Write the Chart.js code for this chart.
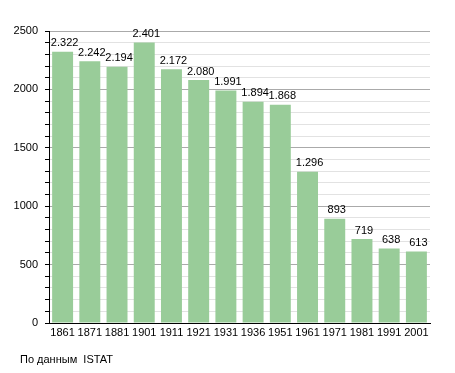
<!DOCTYPE html>
<html>
<head>
<meta charset="utf-8">
<script src="https://cdn.jsdelivr.net/npm/chart.js@4.4.0/dist/chart.umd.min.js"></script>
<style>
  html, body { margin: 0; padding: 0; background: #fff; }
  #wrap { position: relative; width: 455px; height: 373px; }
  #source { position: absolute; left: 20px; top: 353px; font: 11px "Liberation Sans", Arial, sans-serif; color: #000; }
</style>
</head>
<body>
<div id="wrap">
  <canvas id="chart" width="455" height="373"></canvas>
  <div id="source">По данным&nbsp; ISTAT</div>
</div>
<script>
// Census years and population
const years = ['1861', '1871', '1881', '1901', '1911', '1921', '1931', '1936', '1951', '1961', '1971', '1981', '1991', '2001'];
const population = [2322, 2242, 2194, 2401, 2172, 2080, 1991, 1894, 1868, 1296, 893, 719, 638, 613];
const yTicks = [0, 500, 1000, 1500, 2000, 2500];

const FONT = { family: '"Liberation Sans", Arial, sans-serif', size: 11 };

function fmt(v) {
    return String(v).replace(/\B(?=(\d{3})+(?!\d))/g, '.');
}

// value labels above each bar
const barLabels = {
    id: 'barLabels',
    afterDatasetsDraw(chart) {
        const ctx = chart.ctx;
        const meta = chart.getDatasetMeta(0);
        ctx.save();
        ctx.font = `${FONT.size}px ${FONT.family}`;
        ctx.fillStyle = '#000';
        ctx.textAlign = 'center';
        ctx.textBaseline = 'bottom';
        meta.data.forEach((bar, i) => {
            ctx.fillText(fmt(population[i]), bar.x + 2, bar.y - 3);
        });
        ctx.restore();
    }
};

new Chart(document.getElementById('chart'), {
    type: 'bar',
    data: {
        labels: years,
        datasets: [{
            data: population,
            backgroundColor: '#99cc99',
            borderWidth: 0,
            barPercentage: 0.77,
            categoryPercentage: 1
        }]
    },
    options: {
        responsive: false,
        animation: false,
        layout: { padding: { top: 31, right: 25, left: 0, bottom: 0 } },
        plugins: { legend: { display: false }, tooltip: { enabled: false } },
        scales: {
            x: {
                grid: { display: false, drawTicks: false },
                border: { color: '#000', width: 1 },
                ticks: { color: '#000', font: FONT, padding: 3, maxRotation: 0, autoSkip: false },
                afterFit: s => { s.height = 50; }
            },
            y: {
                min: 0,
                max: 2500,
                border: { color: '#000', width: 1 },
                grid: {
                    color: c => (c.tick.value % 500 === 0 ? '#aaaaaa' : '#e2e2e2'),
                    tickColor: '#000',
                    tickLength: 4
                },
                ticks: {
                    stepSize: 100,
                    color: '#000',
                    font: FONT,
                    padding: 7,
                    autoSkip: false,
                    callback: v => (yTicks.includes(v) ? String(v) : '')
                },
                afterFit: s => { s.width = 49; }
            }
        }
    },
    plugins: [barLabels]
});
</script>
</body>
</html>
